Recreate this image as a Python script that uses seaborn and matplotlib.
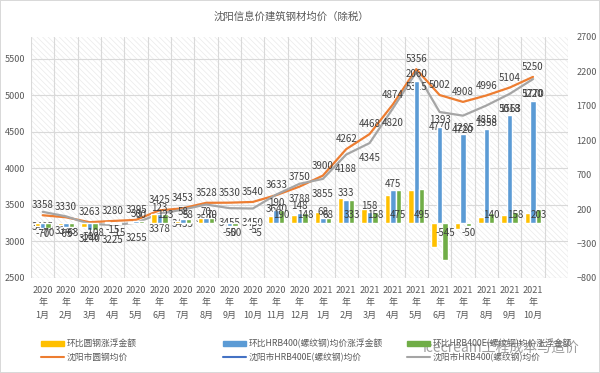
import numpy as np
import pandas as pd
import matplotlib
matplotlib.use("Agg")
import matplotlib.pyplot as plt
import seaborn as sns
from matplotlib.patches import Rectangle, Patch
from matplotlib.lines import Line2D

# data
months = ["2020\n年\n1月", "2020\n年\n2月", "2020\n年\n3月", "2020\n年\n4月", "2020\n年\n5月",
          "2020\n年\n6月", "2020\n年\n7月", "2020\n年\n8月", "2020\n年\n9月", "2020\n年\n10月",
          "2020\n年\n11月", "2020\n年\n12月", "2021\n年\n1月", "2021\n年\n2月", "2021\n年\n3月",
          "2021\n年\n4月", "2021\n年\n5月", "2021\n年\n6月", "2021\n年\n7月", "2021\n年\n8月",
          "2021\n年\n9月", "2021\n年\n10月"]

round_price = [3358, 3330, 3263, 3280, 3295, 3425, 3453, 3528, 3530, 3540, 3633,
               3750, 3900, 4262, 4468, 4874, 5356, 5002, 4908, 4996, 5104, 5250]
hrb_price = [3405, 3343, 3240, 3225, 3255, 3378, 3435, 3505, 3455, 3450, 3640,
             3788, 3855, 4188, 4345, 4820, 5315, 4770, 4720, 4858, 5018, 5220]

round_chg = [-40, -28, -67, 17, 15, 130, 28, 75, 2, 10, 93,
             117, 150, 362, 206, 406, 482, -354, -94, 88, 108, 146]
hrb_chg = [-70, -63, -108, -15, 30, 123, 58, 70, -50, -5, 190,
           148, 68, 333, 158, 475, 2060, 1393, 1285, 1358, 1563, 1770]
hrbe_chg = [-70, -63, -108, -15, 30, 123, 58, 70, -50, -5, 190,
            148, 68, 333, 158, 475, 495, -545, -50, 140, 158, 203]

bar_names = ["环比圆钢涨浮金额", "环比HRB400(螺纹钢)均价涨浮金额", "环比HRB400E(螺纹钢)均价涨浮金额"]
bar_colors = ["#FFC000", "#5B9BD5", "#70AD47"]
line_names = ["沈阳市圆钢均价", "沈阳市HRB400E(螺纹钢)均价", "沈阳市HRB400(螺纹钢)均价"]
line_colors = ["#ED7D31", "#4472C4", "#A5A5A5"]

sns.set_style("white")
plt.rcParams['font.family'] = ['Noto Sans CJK SC', 'DejaVu Sans']
plt.rcParams['hatch.linewidth'] = 0.5

txt = "#595959"

fig = plt.figure(figsize=(6, 3.73), dpi=100)
fig.patch.set_edgecolor("#D9D9D9")
fig.patch.set_linewidth(1.2)
ax = fig.add_axes([0.0517, 0.2547, 0.895, 0.647])
ax2 = ax.twinx()

# hatched plot background
ax.add_patch(Rectangle((0, 0), 1, 1, transform=ax.transAxes, facecolor="white",
                       edgecolor="#EAEAEA", hatch="\\\\\\\\\\\\", lw=0, zorder=0))

# bars on the right axis
df_bar = pd.DataFrame({
    "month": months * 3,
    "series": [bar_names[0]] * 22 + [bar_names[1]] * 22 + [bar_names[2]] * 22,
    "value": round_chg + hrb_chg + hrbe_chg,
})
sns.barplot(data=df_bar, x="month", y="value", hue="series", order=months,
            hue_order=bar_names, palette=bar_colors, width=0.7, saturation=1,
            errorbar=None, legend=False, ax=ax2)

# lines on the left axis
x = np.arange(len(months))
sns.lineplot(x=x, y=round_price, color=line_colors[0], lw=1.6, ax=ax)
sns.lineplot(x=x, y=hrb_price, color=line_colors[2], lw=1.6, ax=ax)

# labels
for i in range(len(months)):
    ax.annotate(str(round_price[i]), (x[i], round_price[i]), xytext=(0, 3.5),
                textcoords="offset points", ha="center", va="bottom", fontsize=7, color="#404040")
    ax.annotate(str(hrb_price[i]), (x[i], hrb_price[i]), xytext=(0, -7),
                textcoords="offset points", ha="center", va="top", fontsize=7, color="#404040")
    v = hrb_chg[i]
    ax2.annotate(str(v), (x[i], v), xytext=(0, 1 if v >= 0 else -1),
                 textcoords="offset points", ha="center", va="bottom" if v >= 0 else "top",
                 fontsize=7, color="#404040")
    v = hrbe_chg[i]
    ax2.annotate(str(v), (x[i] + 0.233, 0), xytext=(0, 2 if v >= 0 else -4),
                 textcoords="offset points", ha="center", va="bottom" if v >= 0 else "top",
                 fontsize=7, color="#404040")

ax.set_ylim(2500, 5800)
ax.set_yticks(range(2500, 5501, 500))
ax2.set_ylim(-800, 2700)
ax2.set_yticks(range(-800, 2701, 500))
ax.set_xlim(-0.5, 22.5)
ax.set_xticks(x)
ax.set_xticklabels(months, fontsize=5.5, color=txt, linespacing=1.45)
ax.set_xticks(np.arange(-0.5, 23, 1), minor=True)
ax.grid(axis="y", color="#D9D9D9", lw=0.8)
ax.grid(axis="x", which="minor", color="#D9D9D9", lw=0.8)
ax.set_axisbelow(True)
ax.tick_params(which="both", length=0, labelsize=6.5, labelcolor=txt, pad=4)
ax.tick_params(axis="x", pad=6)
ax2.tick_params(length=0, labelsize=6.5, labelcolor=txt, pad=6)
ax.set_xlabel("")
ax.set_ylabel("")
ax2.set_xlabel("")
ax2.set_ylabel("")
for a in (ax, ax2):
    for s in a.spines.values():
        s.set_visible(False)

fig.text(0.485, 0.955, "沈阳信息价建筑钢材均价（除税）", ha="center", va="center",
         fontsize=7.5, color=txt)

# legend: one column per pair, fixed positions like the original
col_x = [0.068, 0.372, 0.678]
for k in range(3):
    h = [Patch(color=bar_colors[k]), Line2D([], [], color=line_colors[k], lw=1.5)]
    fig.legend(h, [bar_names[k], line_names[k]], loc="center left",
               bbox_to_anchor=(col_x[k], 0.06), frameon=False, fontsize=6.3,
               labelcolor=txt, handlelength=2.6, handleheight=0.5,
               handletextpad=0.3, labelspacing=0.55, borderaxespad=0, borderpad=0)

fig.text(0.835, 0.067, "icecream工程成本与造价", ha="center", va="center",
         fontsize=10, color="#7F7F7F", alpha=0.75)

fig.savefig("out.png", dpi=100, edgecolor=fig.get_edgecolor())
